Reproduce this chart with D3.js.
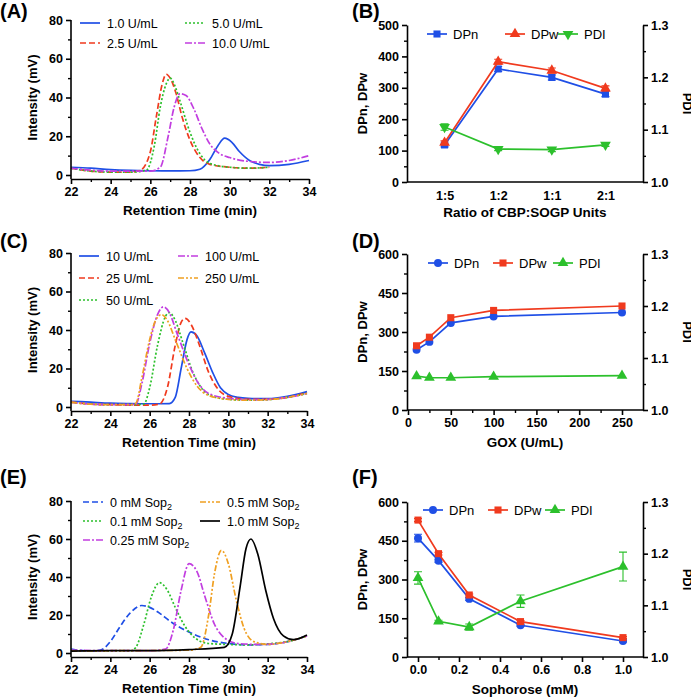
<!DOCTYPE html>
<html><head><meta charset="utf-8">
<script src="https://cdn.jsdelivr.net/npm/d3@7"></script>
<style>
body{margin:0;background:#fff}
text{font-family:"Liberation Sans",Arial,sans-serif}
</style></head><body>
<svg id="fig" width="691" height="700"></svg>
<script>
// colours
var BLUE = '#1f4fe6', RED = '#f03a1e', GREEN = '#2cc02c', PURPLE = '#c23ee0', ORANGE = '#f0a022', BLACK = '#000';

// (A) chromatograms, GOX units
var aNames = ['1.0 U/mL', '2.5 U/mL', '5.0 U/mL', '10.0 U/mL'];
var aCurves = [
  [[22,4],[23,3.5],[24,2.8],[25,2.4],[26,2.2],[27,2.1],[28,2.2],[28.5,3],[29,8],[29.4,15],[29.75,19],[30.1,17],[30.5,12],[31,7.5],[31.5,5.5],[32,4.8],[33,5.5],[34,7.5]],
  [[22,3.5],[23,2],[24,1.5],[25,1.5],[25.5,2.5],[26,12],[26.3,30],[26.6,47],[26.8,52],[27,50],[27.3,42],[27.6,30],[28,18],[28.5,9],[29,5.5],[30,4],[31,3.5],[32,4]],
  [[22,3.5],[23,2],[24,1.5],[25,1.5],[25.8,2.5],[26.2,15],[26.5,35],[26.8,47],[27,50],[27.2,47],[27.5,38],[28,22],[28.5,11],[29,6],[30,4],[31,3.5],[32,4]],
  [[22,3.5],[23,2.5],[24,2],[25,2],[26,2],[26.5,4],[26.9,20],[27.2,35],[27.5,42],[27.8,41],[28.2,34],[28.6,24],[29,16],[29.5,11],[30,9],[31,7],[32,6.5],[33,7.5],[34,10]]
];

// (C) chromatograms, GOX concentration
var cNames = ['10 U/mL', '25 U/mL', '50 U/mL', '100 U/mL', '250 U/mL'];
var cCurves = [
  [[22,3],[23,2.5],[24,2],[25,1.8],[26,1.7],[27,1.8],[27.3,5],[27.6,20],[27.9,35],[28.1,39],[28.4,37],[28.8,28],[29.2,18],[29.6,10],[30,6.5],[30.5,5],[31,4.5],[32,4.3],[33,5.5],[34,8]],
  [[22,2.5],[23,1.5],[24,1.2],[25,1],[26,1],[26.5,1.5],[26.9,10],[27.3,32],[27.6,44],[27.8,46],[28.1,43],[28.5,33],[29,18],[29.5,9],[30,5.5],[31,4],[32,4],[33,5],[34,7.5]],
  [[22,2.5],[23,1.5],[24,1.2],[25,1.2],[25.7,1.5],[26,10],[26.4,32],[26.8,47],[27,49],[27.3,45],[27.7,33],[28.2,18],[28.7,9],[29.2,5.5],[30,4],[31,3.5],[32,3.8],[33,5],[34,7]],
  [[22,2.5],[23,1.5],[24,1.2],[25,1.2],[25.3,1.5],[25.6,12],[26,33],[26.4,48],[26.7,52],[27,49],[27.4,38],[28,22],[28.5,12],[29,7],[30,4.5],[31,3.8],[32,4],[33,5],[34,7]],
  [[22,2.5],[23,1.5],[24,1.2],[25,1.2],[25.3,2],[25.6,15],[26,35],[26.3,45],[26.6,48],[26.9,45],[27.3,35],[27.9,20],[28.4,11],[29,6],[30,4],[31,3.5],[32,3.8],[33,5],[34,7]]
];

// (E) chromatograms, sophorose
var eNames = ['0 mM Sop', '0.1 mM Sop', '0.25 mM Sop', '0.5 mM Sop', '1.0 mM Sop'];
var eCurves = [
  [[22,2],[23,1],[23.5,1.5],[24,6],[24.5,14],[25,21],[25.6,25],[26,24],[26.5,21],[27,17],[28,11],[29,7],[30,5],[31,4.3],[32,4.5],[33,6],[34,9]],
  [[22,1.5],[23,1],[24,1],[25,1],[25.3,3],[25.7,15],[26.1,30],[26.5,37],[26.9,33],[27.3,24],[27.8,14],[28.3,8],[29,5],[30,4.5],[31,4.3],[32,4.8],[33,6],[34,9]],
  [[22,1.5],[24,1.2],[26,1.2],[26.8,2],[27.2,12],[27.6,33],[28,47],[28.4,43],[28.8,30],[29.3,15],[29.8,8],[30.5,5],[31.5,4.5],[32.5,5],[34,9]],
  [[22,1],[24,1.2],[26,1.3],[28,1.5],[28.6,3],[29,20],[29.3,42],[29.65,54],[30,47],[30.4,28],[30.8,13],[31.3,6],[32,4.5],[33,6],[34,9]],
  [[22,1],[24,1.2],[26,1.2],[28,1.8],[29.8,3],[30.2,10],[30.6,35],[30.9,55],[31.15,60],[31.5,52],[31.9,33],[32.3,18],[32.8,9],[33.3,7],[34,9.5]]
];

// (B) ratio of CBP:SOGP
var bCats = ['1:5', '1:2', '1:1', '2:1'];
var bDPn = [118, 360, 333, 280], bDPnErr = [6, 8, 8, 8];
var bDPw = [125, 383, 355, 298], bDPwErr = [6, 8, 8, 8];
var bPDI = [1.105, 1.063, 1.062, 1.071], bPDIErr = [0.006, 0.003, 0.004, 0.003];

// (D) GOX
var dX = [10, 25, 50, 100, 250];
var dDPn = [232, 262, 335, 360, 375];
var dDPw = [247, 280, 355, 383, 400];
var dPDI = [1.065, 1.062, 1.062, 1.064, 1.066];

// (F) sophorose
var fX = [0, 0.1, 0.25, 0.5, 1.0];
var fDPn = [460, 373, 225, 123, 62], fDPnErr = [15, 6, 6, 4, 4];
var fDPw = [530, 400, 240, 137, 75], fDPwErr = [6, 5, 4, 4, 4];
var fPDI = [1.153, 1.069, 1.058, 1.108, 1.175], fPDIErr = [0.012, 0.002, 0.006, 0.012, 0.028];

var svg = d3.select('#fig');

function styleAxis(g) {
  g.selectAll('path,line').attr('stroke', '#000').attr('stroke-width', 1.6);
  g.selectAll('text').attr('font-size', 12.5).attr('font-weight', 'bold').attr('fill', '#000');
}
function minor(g, scale, vals, orient, x0, y0) {
  var ax = orient == 'left' ? d3.axisLeft(scale) : orient == 'right' ? d3.axisRight(scale) : d3.axisBottom(scale);
  var m = svg.append('g').attr('transform', 'translate(' + x0 + ',' + y0 + ')')
    .call(ax.tickValues(vals).tickSize(3).tickFormat(''));
  m.select('.domain').remove();
  m.selectAll('line').attr('stroke', '#000').attr('stroke-width', 1.4);
}
function label(t, x, y) {
  svg.append('text').attr('x', x).attr('y', y).attr('font-size', 20).attr('font-weight', 'bold').text(t);
}
function ytitle(t, x, y, rot) {
  svg.append('text').attr('transform', 'translate(' + x + ',' + y + ') rotate(' + rot + ')')
    .attr('text-anchor', 'middle').attr('font-size', 13).attr('font-weight', 'bold').text(t);
}
function xtitle(t, x, y) {
  svg.append('text').attr('x', x).attr('y', y).attr('text-anchor', 'middle')
    .attr('font-size', 13.5).attr('font-weight', 'bold').text(t);
}

function chrom(box, names, curves, cols, dashes, legPos, sub) {
  var x = d3.scaleLinear().domain([22, 34]).range([box.l, box.r]);
  var y = d3.scaleLinear().domain([0, 80]).range([box.b, box.t]);
  var line = d3.line().x(function(d) { return x(d[0]); }).y(function(d) { return y(d[1]); }).curve(d3.curveMonotoneX);
  curves.forEach(function(c, i) {
    svg.append('path').attr('d', line(c)).attr('fill', 'none').attr('stroke', cols[i])
      .attr('stroke-width', 1.7).attr('stroke-dasharray', dashes[i]);
  });
  var ga = svg.append('g').attr('transform', 'translate(0,' + (box.b + 4) + ')')
    .call(d3.axisBottom(x).tickValues([22, 24, 26, 28, 30, 32, 34]).tickSize(5).tickSizeOuter(0));
  styleAxis(ga);
  minor(ga, x, [23, 25, 27, 29, 31, 33], 'bottom', 0, box.b + 4);
  var gy = svg.append('g').attr('transform', 'translate(' + box.l + ',0)')
    .call(d3.axisLeft(y).tickValues([0, 20, 40, 60, 80]).tickSize(5).tickSizeOuter(0));
  styleAxis(gy);
  gy.select('.domain').attr('d', 'M0,' + y(80) + 'V' + (box.b + 4));
  minor(gy, y, [10, 30, 50, 70], 'left', box.l, 0);
  names.forEach(function(n, i) {
    var p = legPos[i];
    svg.append('line').attr('x1', p[0]).attr('x2', p[0] + 20).attr('y1', p[1]).attr('y2', p[1])
      .attr('stroke', cols[i]).attr('stroke-width', 1.7).attr('stroke-dasharray', dashes[i]);
    var t = svg.append('text').attr('x', p[0] + 27).attr('y', p[1] + 4.5).attr('font-size', 12.5).text(n);
    if (sub) t.append('tspan').attr('font-size', 9).attr('dy', 3).text('2');
  });
  ytitle('Intensity (mV)', box.l - 34, (box.t + box.b) / 2, -90);
  xtitle('Retention Time (min)', (box.l + box.r) / 2, box.b + 40);
}

function marker(shape, size) {
  var s = { square: d3.symbolSquare, circle: d3.symbolCircle, triangle: d3.symbolTriangle, tdown: d3.symbolTriangle }[shape];
  return d3.symbol().type(s).size(size);
}

function dpPanel(box, xs, xscale, series, yMax, yTicks, yMinor, legY, legX) {
  var y = d3.scaleLinear().domain([0, yMax]).range([box.b, box.t]);
  var y2 = d3.scaleLinear().domain([1.0, 1.3]).range([box.b, box.t]);
  series.forEach(function(s, si) {
    var ys = s.right ? y2 : y;
    var pts = xs.map(function(xv, i) { return [xscale(xv), ys(s.v[i]), s.e ? s.e[i] : 0, s.v[i]]; });
    svg.append('path').attr('d', d3.line()(pts.map(function(p) { return [p[0], p[1]]; })))
      .attr('fill', 'none').attr('stroke', s.c).attr('stroke-width', 1.7);
    pts.forEach(function(p) {
      if (p[2] > 0) {
        var a = ys(p[3] + p[2]), b = ys(p[3] - p[2]);
        svg.append('path').attr('d', 'M' + p[0] + ',' + a + 'V' + b + 'M' + (p[0] - 4) + ',' + a + 'H' + (p[0] + 4) + 'M' + (p[0] - 4) + ',' + b + 'H' + (p[0] + 4))
          .attr('stroke', s.c).attr('stroke-width', 1.1).attr('fill', 'none');
      }
      svg.append('path').attr('d', marker(s.m, 50)())
        .attr('transform', 'translate(' + p[0] + ',' + p[1] + ')' + (s.m == 'tdown' ? ' rotate(180)' : ''))
        .attr('fill', s.c);
    });
    var lx = legX[si];
    svg.append('line').attr('x1', lx).attr('x2', lx + 20).attr('y1', legY).attr('y2', legY).attr('stroke', s.c).attr('stroke-width', 1.7);
    svg.append('path').attr('d', marker(s.m, 50)()).attr('fill', s.c)
      .attr('transform', 'translate(' + (lx + 10) + ',' + legY + ')' + (s.m == 'tdown' ? ' rotate(180)' : ''));
    svg.append('text').attr('x', lx + 26).attr('y', legY + 4.5).attr('font-size', 13).text(s.n);
  });
  var gy = svg.append('g').attr('transform', 'translate(' + box.l + ',0)')
    .call(d3.axisLeft(y).tickValues(yTicks).tickSize(5).tickSizeOuter(0));
  styleAxis(gy);
  minor(gy, y, yMinor, 'left', box.l, 0);
  var gr = svg.append('g').attr('transform', 'translate(' + box.r + ',0)')
    .call(d3.axisRight(y2).tickValues([1.0, 1.1, 1.2, 1.3]).tickFormat(d3.format('.1f')).tickSize(5).tickSizeOuter(0));
  styleAxis(gr);
  minor(gr, y2, [1.05, 1.15, 1.25], 'right', box.r, 0);
  svg.append('line').attr('x1', box.l).attr('x2', box.r).attr('y1', box.b).attr('y2', box.b).attr('stroke', '#000').attr('stroke-width', 1.6);
  ytitle('DPn, DPw', box.l - 40, (box.t + box.b) / 2, -90);
  ytitle('PDI', box.r + 40, (box.t + box.b) / 2, 90);
}

// ---- A ----
label('(A)', 0, 18);
chrom({ l: 71, r: 309, t: 20, b: 175 }, aNames, aCurves, [BLUE, RED, GREEN, PURPLE],
  ['none', '6,3', '2,2', '7,2,2,2'], [[80, 23], [80, 43], [185, 23], [185, 43]], false);

// ---- C ----
label('(C)', 0, 248);
chrom({ l: 71, r: 307, t: 253, b: 407 }, cNames, cCurves, [BLUE, RED, GREEN, PURPLE, ORANGE],
  ['none', '6,3', '2,2', '7,2,2,2', '6,2,2,2,2,2'], [[79, 256], [79, 278], [79, 300], [178, 256], [178, 278]], false);

// ---- E ----
label('(E)', 0, 484);
chrom({ l: 71, r: 307, t: 501, b: 653 }, eNames, eCurves, [BLUE, GREEN, PURPLE, ORANGE, BLACK],
  ['6,3', '2,2', '7,2,2,2', '6,2,2,2,2,2', 'none'], [[83, 502], [83, 521], [83, 540], [200, 502], [200, 521]], true);

// ---- B ----
label('(B)', 352, 18);
var bx = d3.scalePoint().domain(bCats).range([407, 643]).padding(0.7);
dpPanel({ l: 407, r: 643, t: 25, b: 182 }, bCats, bx, [
  { n: 'DPn', v: bDPn, e: bDPnErr, c: BLUE, m: 'square' },
  { n: 'DPw', v: bDPw, e: bDPwErr, c: RED, m: 'triangle' },
  { n: 'PDI', v: bPDI, e: bPDIErr, c: GREEN, m: 'tdown', right: true }
], 500, [0, 100, 200, 300, 400, 500], [50, 150, 250, 350, 450], 34, [427, 505, 558]);
var gb = svg.append('g').attr('transform', 'translate(0,186)').call(d3.axisBottom(bx).tickSize(0));
styleAxis(gb); gb.select('.domain').remove(); gb.selectAll('text').attr('dy', '0.9em');
xtitle('Ratio of CBP:SOGP Units', 525, 217);

// ---- D ----
label('(D)', 352, 248);
var dx = d3.scaleLinear().domain([0, 250]).range([408, 622]);
dpPanel({ l: 407, r: 643, t: 254, b: 410 }, dX, dx, [
  { n: 'DPn', v: dDPn, c: BLUE, m: 'circle' },
  { n: 'DPw', v: dDPw, c: RED, m: 'square' },
  { n: 'PDI', v: dPDI, c: GREEN, m: 'triangle', right: true }
], 600, [0, 150, 300, 450, 600], [75, 225, 375, 525], 263, [428, 493, 553]);
var gd = svg.append('g').attr('transform', 'translate(0,410)').call(d3.axisBottom(dx).tickValues([0, 50, 100, 150, 200, 250]).tickSize(5));
styleAxis(gd); gd.select('.domain').remove();
minor(gd, dx, [25, 75, 125, 175, 225], 'bottom', 0, 410);
xtitle('GOX (U/mL)', 525, 447);

// ---- F ----
label('(F)', 352, 484);
var fx = d3.scaleLinear().domain([0, 1]).range([418, 623]);
dpPanel({ l: 407, r: 643, t: 502, b: 657 }, fX, fx, [
  { n: 'DPn', v: fDPn, e: fDPnErr, c: BLUE, m: 'circle' },
  { n: 'DPw', v: fDPw, e: fDPwErr, c: RED, m: 'square' },
  { n: 'PDI', v: fPDI, e: fPDIErr, c: GREEN, m: 'triangle', right: true }
], 600, [0, 150, 300, 450, 600], [75, 225, 375, 525], 510, [423, 488, 545]);
var gf = svg.append('g').attr('transform', 'translate(0,657)').call(d3.axisBottom(fx).tickValues([0, 0.2, 0.4, 0.6, 0.8, 1.0]).tickFormat(d3.format('.1f')).tickSize(5));
styleAxis(gf); gf.select('.domain').remove();
minor(gf, fx, [0.1, 0.3, 0.5, 0.7, 0.9], 'bottom', 0, 657);
xtitle('Sophorose  (mM)', 525, 694);
</script>
</body></html>
